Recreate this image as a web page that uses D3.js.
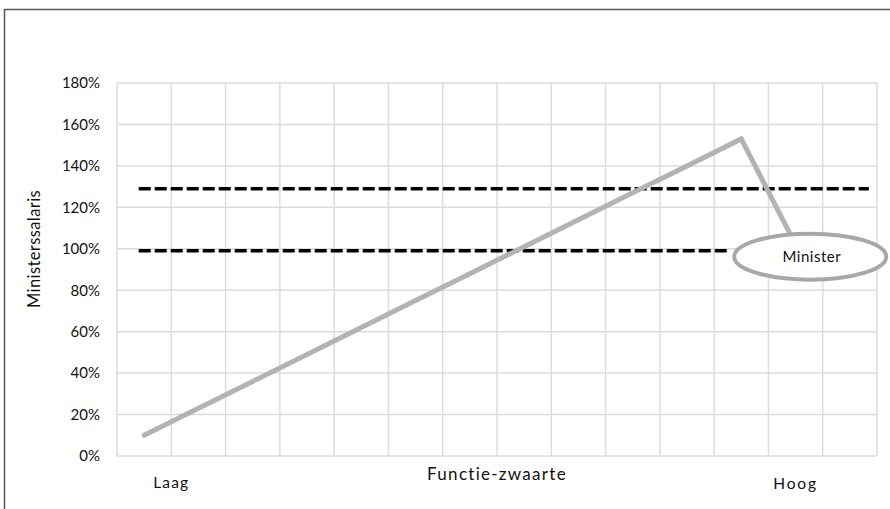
<!DOCTYPE html>
<html>
<head>
<meta charset="utf-8">
<script src="https://cdn.jsdelivr.net/npm/d3@7"></script>
<style>
  body { margin: 0; background: #fff; }
  text { font-family: Lato, "Open Sans", sans-serif; fill: #111; }
</style>
</head>
<body>
<div id="chart"></div>
<script>
// data
const categories = d3.range(14).map(i => "c" + i);
const salaris = [0.10, 0.23, 0.36, 0.49, 0.62, 0.75, 0.88, 1.01, 1.14, 1.27, 1.40, 1.53, 1.02];
const yTicks = [0, 0.2, 0.4, 0.6, 0.8, 1.0, 1.2, 1.4, 1.6, 1.8];
const xLabels = ["Laag", "Functie-zwaarte", "Hoog"];
const refLevels = [1.29, 0.99];
const refEnds = [13.85, 11.25];

const width = 890, height = 509;
const plotLeft = 117, plotRight = 877, plotTop = 83, plotBottom = 456;

const svg = d3.select("#chart").append("svg")
    .attr("width", width)
    .attr("height", height);

// outer frame
svg.append("rect")
    .attr("x", 4.5).attr("y", 9.5)
    .attr("width", 900).attr("height", 520)
    .attr("fill", "none")
    .attr("stroke", "#555")
    .attr("stroke-width", 1.5);

const x = d3.scaleLinear().domain([0, categories.length]).range([plotLeft, plotRight]);
const y = d3.scaleLinear().domain([0, 1.8]).range([plotBottom, plotTop]);

// grid
svg.append("g").selectAll("line")
    .data(yTicks)
    .join("line")
    .attr("x1", plotLeft).attr("x2", plotRight)
    .attr("y1", d => y(d)).attr("y2", d => y(d))
    .attr("stroke", "#dcdcdc").attr("stroke-width", 1.5);

svg.append("g").selectAll("line")
    .data(d3.range(categories.length + 1))
    .join("line")
    .attr("x1", d => x(d)).attr("x2", d => x(d))
    .attr("y1", plotTop).attr("y2", plotBottom)
    .attr("stroke", "#dcdcdc").attr("stroke-width", 1.5);

// y axis
const yAxis = svg.append("g")
    .attr("transform", `translate(${plotLeft},0)`)
    .call(d3.axisLeft(y).tickValues(yTicks).tickFormat(d3.format(".0%")).tickSize(0).tickPadding(17));
yAxis.select(".domain").remove();
yAxis.selectAll("text").style("font-size", "15px").style("font-family", "Lato, sans-serif").attr("fill", "#111");

svg.append("text")
    .attr("transform", "translate(40,249) rotate(-90)")
    .attr("text-anchor", "middle")
    .style("font-size", "16.5px")
    .style("letter-spacing", "0.4px")
    .text("Ministerssalaris");

// x labels
const labelPos = [1.0, 7.0, 12.5];
const labelY = [488, 480, 489];
const labelSize = [15.5, 17, 15.5];
const labelSpacing = [1.2, 1.3, 1.8];
svg.append("g").selectAll("text")
    .data(xLabels)
    .join("text")
    .attr("x", (d, i) => x(labelPos[i]))
    .attr("y", (d, i) => labelY[i])
    .attr("text-anchor", "middle")
    .style("font-size", (d, i) => labelSize[i] + "px")
    .style("letter-spacing", (d, i) => labelSpacing[i] + "px")
    .text(d => d);

// dashed reference lines
svg.append("g").selectAll("line")
    .data(refLevels)
    .join("line")
    .attr("x1", x(0.4)).attr("x2", (d, i) => x(refEnds[i]))
    .attr("y1", d => y(d)).attr("y2", d => y(d))
    .attr("stroke", "#000")
    .attr("stroke-width", 3.5)
    .attr("stroke-dasharray", "12,4");

// salary line
const line = d3.line()
    .x((d, i) => x(i + 0.5))
    .y(d => y(d));

svg.append("path")
    .datum(salaris)
    .attr("d", line)
    .attr("fill", "none")
    .attr("stroke", "#b3b3b3")
    .attr("stroke-width", 5)
    .attr("stroke-linecap", "round")
    .attr("stroke-linejoin", "miter");

// callout
const last = salaris.length - 1;
svg.append("ellipse")
    .attr("cx", x(last + 0.77)).attr("cy", y(salaris[last]) + 12)
    .attr("rx", 76).attr("ry", 23)
    .attr("fill", "#fff")
    .attr("stroke", "#a8a8a8")
    .attr("stroke-width", 4);

svg.append("text")
    .attr("x", x(last + 0.8)).attr("y", y(salaris[last]) + 17)
    .attr("text-anchor", "middle")
    .style("font-size", "15px")
    .style("letter-spacing", "0.5px")
    .text("Minister");
</script>
</body>
</html>
